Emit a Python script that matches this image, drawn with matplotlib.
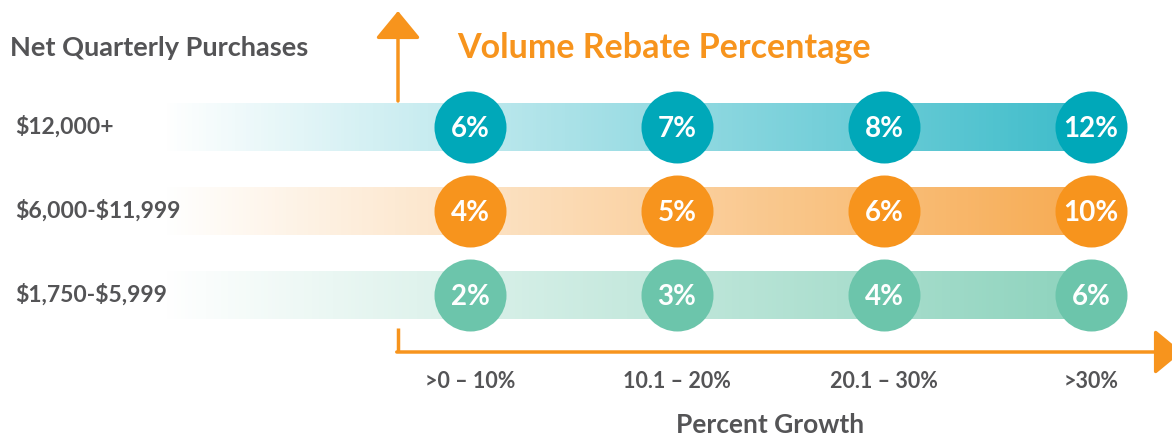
import numpy as np
import matplotlib
matplotlib.use("Agg")
import matplotlib.pyplot as plt
from matplotlib.colors import LinearSegmentedColormap

# data
growth_labels = [">0 – 10%", "10.1 – 20%", "20.1 – 30%", ">30%"]
tier_labels = ["$12,000+", "$6,000-$11,999", "$1,750-$5,999"]
rebates = [
    [6, 7, 8, 12],
    [4, 5, 6, 10],
    [2, 3, 4, 6],
]

# styles
circle_colors = ["#00a8b9", "#f7941d", "#6cc5ab"]
bar_colors = ["#3dbcca", "#f7ab52", "#8dd3bd"]
orange = "#f7941d"
gray = "#545456"
font = ["Lato", "DejaVu Sans"]

plt.rcParams["font.family"] = font
plt.rcParams["text.parse_math"] = False

W, H = 1172, 438
fig = plt.figure(figsize=(W / 100, H / 100), dpi=100)
ax = fig.add_axes([0, 0, 1, 1])

# pixel layout: category spacing 207 px starting at 470, row spacing 84 px starting at 127
x0, dx = 470, 207
y0, dy = 127, 84
ax.set_xlim(-x0 / dx, (W - x0) / dx)
ax.set_ylim((H - y0) / dy, -y0 / dy)
ax.axis("off")

cols = np.arange(len(growth_labels))
rows = np.arange(len(tier_labels))

# gradient bars
bar_left = (163 - x0) / dx
bar_h = 48 / dy
bars = ax.barh(rows, cols[-1] - bar_left, left=bar_left, height=bar_h,
               color="none", edgecolor="none")
grad = np.linspace(0, 1, 256).reshape(1, -1)
for r, b in zip(rows, bars):
    cmap = LinearSegmentedColormap.from_list("g%d" % r, ["#ffffff", bar_colors[r]])
    im = ax.imshow(grad, cmap=cmap, aspect="auto",
                   extent=[bar_left, cols[-1], r + bar_h / 2, r - bar_h / 2],
                   zorder=1)
    im.set_clip_path(b)

# circles with values
diam_pt = 72 * 72 / 100
for r in rows:
    ax.scatter(cols, [r] * len(cols), s=diam_pt ** 2, color=circle_colors[r],
               zorder=3, linewidths=0)
    for c in cols:
        ax.text(c, r + 0.02, "%d%%" % rebates[r][c], color="white",
                fontsize=20, fontweight="bold", ha="center", va="center",
                zorder=4)

# axes arrows
ax_x = (398 - x0) / dx
arrow = dict(arrowstyle="-|>,head_width=0.7,head_length=0.85", mutation_scale=20,
             lw=2.5, color=orange, shrinkA=0, shrinkB=0)
ax.annotate("", xy=(ax_x, (11 - y0) / dy), xytext=(ax_x, (101 - y0) / dy),
            arrowprops=arrow)
y_axis = (352 - y0) / dy
ax.plot([ax_x, ax_x], [(328 - y0) / dy, y_axis], color=orange, lw=2.5,
        solid_capstyle="butt")
ax.annotate("", xy=((W + 10 - x0) / dx, y_axis), xytext=(ax_x - 0.006, y_axis),
            arrowprops=arrow, annotation_clip=False)

# labels
for c, lab in zip(cols, growth_labels):
    ax.text(c, (381 - y0) / dy, lab, color=gray, fontsize=15.5, fontweight="bold",
            ha="center", va="center")
ax.text(1.45, (425 - y0) / dy, "Percent Growth", color=gray, fontsize=19,
        fontweight="bold", ha="center", va="center")

for r, lab in zip(rows, tier_labels):
    ax.text((15 - x0) / dx, r, lab, color=gray, fontsize=16.5, fontweight="bold",
            ha="left", va="center")

ax.text((10 - x0) / dx, (48 - y0) / dy, "Net Quarterly Purchases", color=gray,
        fontsize=19.5, fontweight="bold", ha="left", va="center")
ax.text((457 - x0) / dx, (48 - y0) / dy, "Volume Rebate Percentage", color=orange,
        fontsize=24.5, fontweight="bold", ha="left", va="center")

fig.savefig("out.png", dpi=100)
